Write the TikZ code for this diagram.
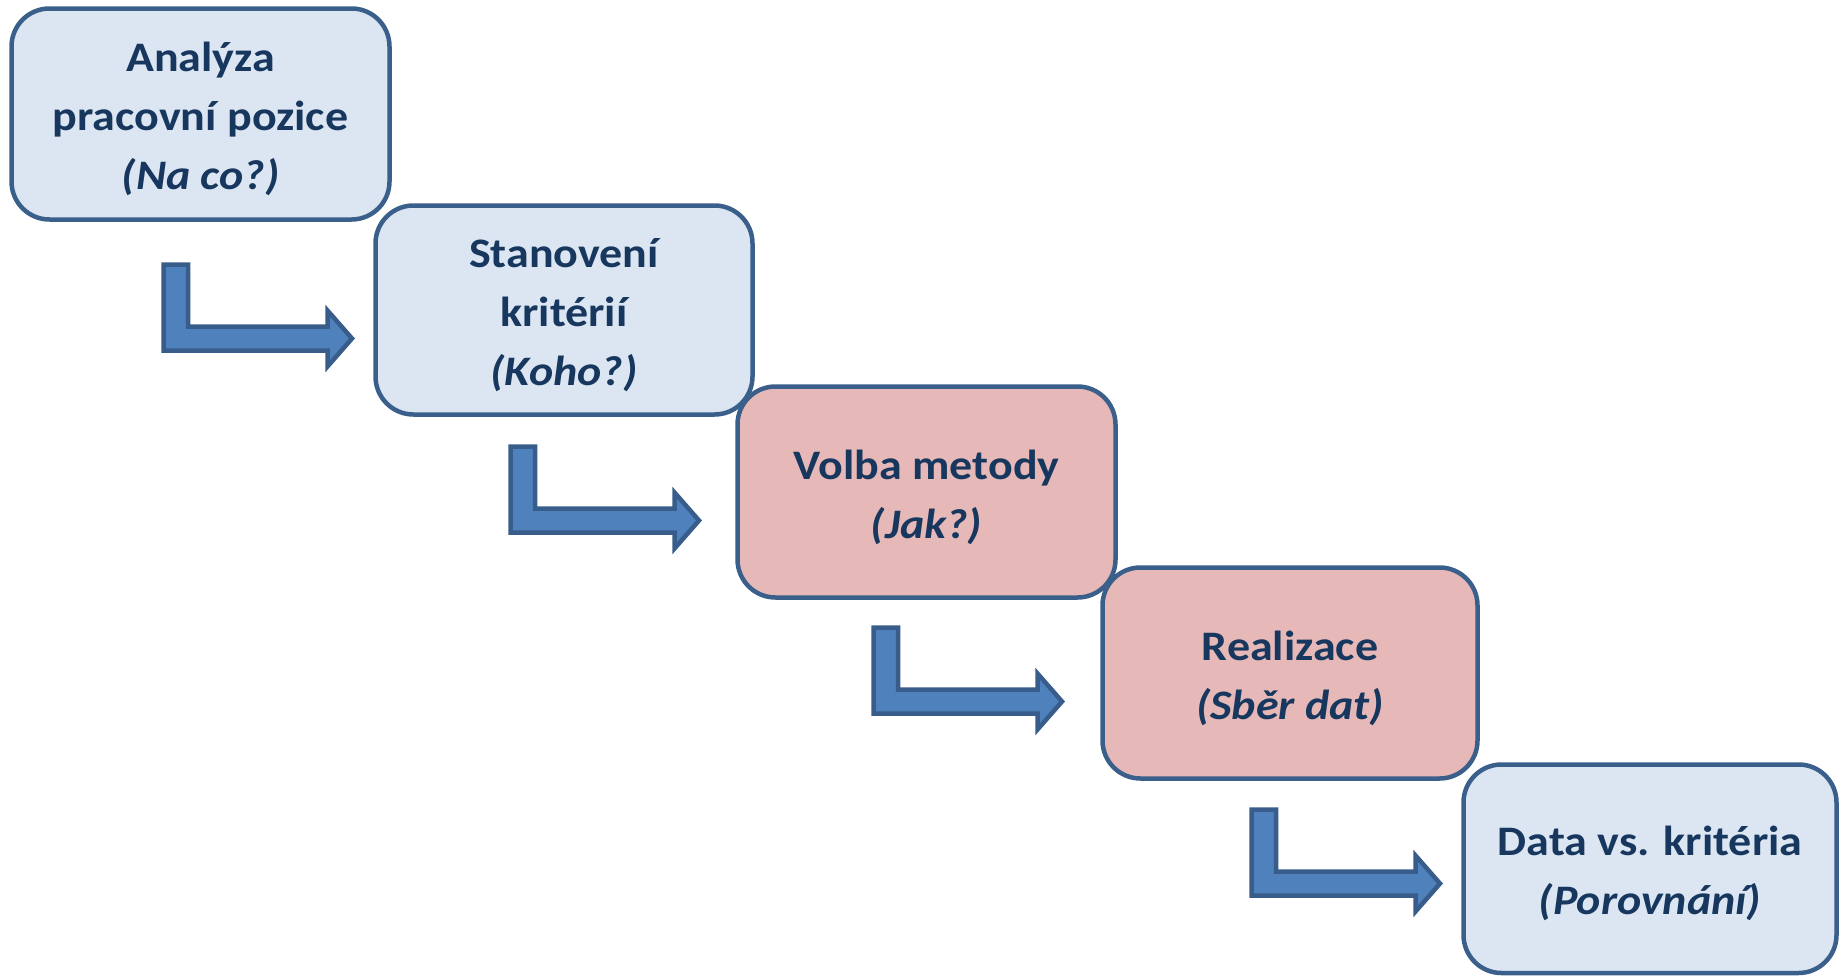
\documentclass[tikz,border=0pt]{standalone}
\usepackage{fontspec}
\setmainfont{Carlito}[FakeStretch=1.095]
\definecolor{boxblue}{HTML}{DCE6F2}
\definecolor{boxpink}{HTML}{E6B9B8}
\definecolor{edge}{HTML}{3A5F8B}
\definecolor{txt}{HTML}{17375E}
\definecolor{arrowfill}{HTML}{4F81BD}
\definecolor{arrowedge}{HTML}{385D8A}
\tikzset{
  stagebox/.style={draw=edge, line width=4.5pt, rounded corners=38pt, inner sep=0pt},
  bluebox/.style={stagebox, fill=boxblue},
  pinkbox/.style={stagebox, fill=boxpink},
  boxtext/.style={align=center, text=txt, font=\fontsize{42}{59}\selectfont\bfseries, inner sep=0pt},
  blockarrow/.style={draw=arrowedge, fill=arrowfill, line width=4.5pt, line join=miter}
}
\newcommand{\elbowarrow}[3]{%
  \draw[blockarrow] (#1+2.5,#2+2.5) coordinate (#3) -- (#1+27,#2+2.5) -- (#1+27,#2+64.5)
    -- (#1+166.5,#2+64.5) -- (#1+166.5,#2+48.5) -- (#1+191,#2+76.5)
    -- (#1+166.5,#2+104.5) -- (#1+166.5,#2+88.5) -- (#1+2.5,#2+88.5) -- cycle;}
\begin{document}
\begin{tikzpicture}[x=1pt,y=-1pt]
\useasboundingbox (0,0) rectangle (1839,977);
\node[bluebox, minimum width=378pt, minimum height=211pt] (b1) at (200.5,114) {};
\node[boxtext] (t1) at ([yshift=-5pt]b1.center) {Analýza\\pracovní pozice\\\itshape (Na co?)};
\node[bluebox, minimum width=377pt, minimum height=209pt] (b2) at (564,310) {};
\node[boxtext] (t2) at ([yshift=-5pt]b2.center) {Stanovení\\kritérií\\\itshape (Koho?)};
\node[pinkbox, minimum width=378pt, minimum height=211pt] (b3) at (926.5,492) {};
\node[boxtext] (t3) at ([yshift=-5pt]b3.center) {Volba metody\\\itshape (Jak?)};
\node[pinkbox, minimum width=375pt, minimum height=211pt] (b4) at (1290,673) {};
\node[boxtext] (t4) at ([yshift=-5pt]b4.center) {Realizace\\\itshape (Sběr dat)};
\node[bluebox, minimum width=373pt, minimum height=208.5pt] (b5) at (1650,868.75) {};
\node[boxtext] (t5) at ([yshift=-5pt]b5.center) {Data vs. kritéria\\\itshape (Porovnání)};
\elbowarrow{161}{262}{a1}
\elbowarrow{508}{444}{a2}
\elbowarrow{871}{625}{a3}
\elbowarrow{1249}{807}{a4}
\end{tikzpicture}
\end{document}
